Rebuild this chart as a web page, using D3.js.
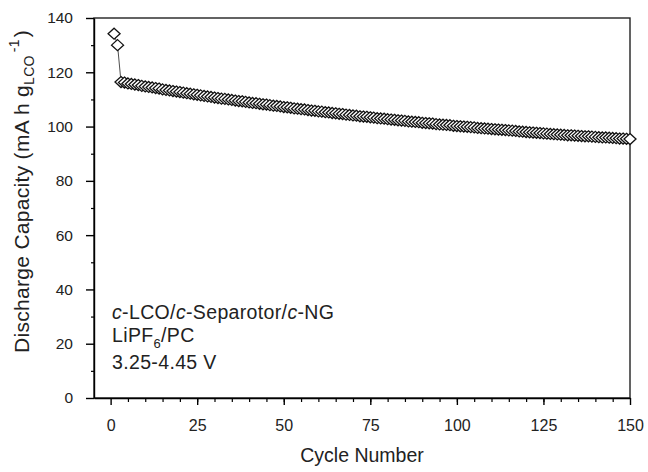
<!DOCTYPE html>
<html>
<head>
<meta charset="utf-8">
<script src="https://cdn.jsdelivr.net/npm/d3@7"></script>
<style>
  body { margin: 0; background: #fff; }
  svg { font-family: "Liberation Sans", Arial, sans-serif; }
</style>
</head>
<body>
<div id="chart"></div>
<script>
// Discharge capacity per cycle
const cycles = d3.range(1, 151);
const capacity = [
  134.2, 130.0, 116.4, 116.2, 115.9, 115.7, 115.5, 115.3, 115.0, 114.8,
  114.6, 114.4, 114.2, 114.0, 113.7, 113.5, 113.3, 113.1, 112.9, 112.7,
  112.5, 112.3, 112.1, 111.9, 111.7, 111.5, 111.3, 111.1, 110.9, 110.7,
  110.5, 110.3, 110.2, 110.0, 109.8, 109.6, 109.4, 109.3, 109.1, 108.9,
  108.7, 108.6, 108.4, 108.2, 108.1, 107.9, 107.7, 107.6, 107.4, 107.2,
  107.1, 106.9, 106.7, 106.6, 106.4, 106.3, 106.1, 105.9, 105.8, 105.6,
  105.5, 105.3, 105.2, 105.0, 104.9, 104.7, 104.6, 104.4, 104.3, 104.1,
  104.0, 103.8, 103.7, 103.6, 103.4, 103.3, 103.1, 103.0, 102.9, 102.7,
  102.6, 102.5, 102.3, 102.2, 102.1, 101.9, 101.8, 101.7, 101.6, 101.4,
  101.3, 101.2, 101.1, 100.9, 100.8, 100.7, 100.6, 100.5, 100.3, 100.2,
  100.1, 100.0, 99.9, 99.8, 99.7, 99.5, 99.4, 99.3, 99.2, 99.1,
  99.0, 98.9, 98.8, 98.7, 98.6, 98.5, 98.4, 98.2, 98.1, 98.0,
  97.9, 97.8, 97.7, 97.6, 97.5, 97.4, 97.3, 97.2, 97.1, 97.0,
  96.9, 96.8, 96.8, 96.7, 96.6, 96.5, 96.4, 96.4, 96.3, 96.2,
  96.1, 96.0, 96.0, 95.9, 95.8, 95.7, 95.6, 95.6, 95.5, 95.4
];
const xTicks = [0, 25, 50, 75, 100, 125, 150];
const xMinorTicks = d3.range(5, 150, 5);
const yTicks = [0, 20, 40, 60, 80, 100, 120, 140];
const yMinorTicks = d3.range(10, 140, 20);

const data = cycles.map((c, i) => ({ cycle: c, value: capacity[i] }));

const width = 648;
const height = 472;
const margin = { top: 18, right: 18, bottom: 74, left: 94 };

const x = d3.scaleLinear()
  .domain([-4.8, 150])
  .range([margin.left, width - margin.right]);

const y = d3.scaleLinear()
  .domain([0, 140])
  .range([height - margin.bottom, margin.top]);

const svg = d3.select("#chart")
  .append("svg")
  .attr("width", width)
  .attr("height", height)
  .attr("viewBox", [0, 0, width, height]);

// Frame
svg.append("rect")
  .attr("x", margin.left)
  .attr("y", margin.top)
  .attr("width", width - margin.left - margin.right)
  .attr("height", height - margin.top - margin.bottom)
  .attr("fill", "none")
  .attr("stroke", "#222")
  .attr("stroke-width", 1.4);

// X axis
const xAxis = svg.append("g")
  .attr("transform", `translate(0,${height - margin.bottom})`)
  .call(d3.axisBottom(x).tickValues(xTicks).tickSize(7).tickPadding(15).tickSizeOuter(0))
  .call((g) => g.select(".domain").attr("stroke-width", 1.4));
xAxis.selectAll("text").attr("font-size", 16).attr("fill", "#222");
xAxis.selectAll(".tick line").attr("stroke-width", 1.4);

svg.append("g")
  .attr("transform", `translate(0,${height - margin.bottom})`)
  .call(d3.axisBottom(x).tickValues(xMinorTicks).tickSize(4).tickFormat(""))
  .call((g) => g.select(".domain").remove())
  .selectAll(".tick line").attr("stroke-width", 1.2);

// Y axis
const yAxis = svg.append("g")
  .attr("transform", `translate(${margin.left},0)`)
  .call(d3.axisLeft(y).tickValues(yTicks).tickSize(8).tickPadding(13).tickSizeOuter(0))
  .call((g) => g.select(".domain").attr("stroke-width", 1.4));
yAxis.selectAll("text").attr("font-size", 15.5).attr("fill", "#222");
yAxis.selectAll(".tick line").attr("stroke-width", 1.4);

svg.append("g")
  .attr("transform", `translate(${margin.left},0)`)
  .call(d3.axisLeft(y).tickValues(yMinorTicks).tickSize(3).tickFormat(""))
  .call((g) => g.select(".domain").remove())
  .selectAll(".tick line").attr("stroke-width", 1.2);

// Axis titles
svg.append("text")
  .attr("x", (margin.left + width - margin.right) / 2)
  .attr("y", 462)
  .attr("text-anchor", "middle")
  .attr("font-size", 19.5)
  .attr("fill", "#222")
  .text("Cycle Number");

const yTitle = svg.append("text")
  .attr("transform", "translate(29,353) rotate(-90)")
  .attr("font-size", 21)
  .attr("letter-spacing", 0.3)
  .attr("fill", "#222");
yTitle.append("tspan").text("Discharge Capacity (mA h g");
yTitle.append("tspan").attr("font-size", 14).attr("dy", 5).text("LCO");
yTitle.append("tspan").attr("font-size", 14).attr("dy", -15).attr("dx", 3).text("-1");
yTitle.append("tspan").attr("dy", 10).attr("dx", 2).text(")");

// Connecting line
const line = d3.line()
  .x((d) => x(d.cycle))
  .y((d) => y(d.value));

svg.append("path")
  .datum(data)
  .attr("fill", "none")
  .attr("stroke", "#222")
  .attr("stroke-width", 0.8)
  .attr("d", line);

// Diamond markers
svg.append("g")
  .selectAll("path")
  .data(data)
  .join("path")
  .attr("transform", (d) => `translate(${x(d.cycle)},${y(d.value)})`)
  .attr("d", "M0,-5.5L6,0L0,5.5L-6,0Z")
  .attr("fill", "#fff")
  .attr("stroke", "#111")
  .attr("stroke-width", 1.3);

// Annotation
const note = svg.append("g")
  .attr("font-size", 19.5)
  .attr("letter-spacing", 0.35)
  .attr("fill", "#222");

const l1 = note.append("text").attr("x", 112).attr("y", 319);
l1.append("tspan").attr("font-style", "italic").text("c");
l1.append("tspan").text("-LCO/");
l1.append("tspan").attr("font-style", "italic").text("c");
l1.append("tspan").text("-Separotor/");
l1.append("tspan").attr("font-style", "italic").text("c");
l1.append("tspan").text("-NG");

const l2 = note.append("text").attr("x", 112).attr("y", 342);
l2.append("tspan").text("LiPF");
l2.append("tspan").attr("font-size", 13).attr("dy", 6).text("6");
l2.append("tspan").attr("dy", -6).text("/PC");

note.append("text").attr("x", 112).attr("y", 369).text("3.25-4.45 V");
</script>
</body>
</html>
